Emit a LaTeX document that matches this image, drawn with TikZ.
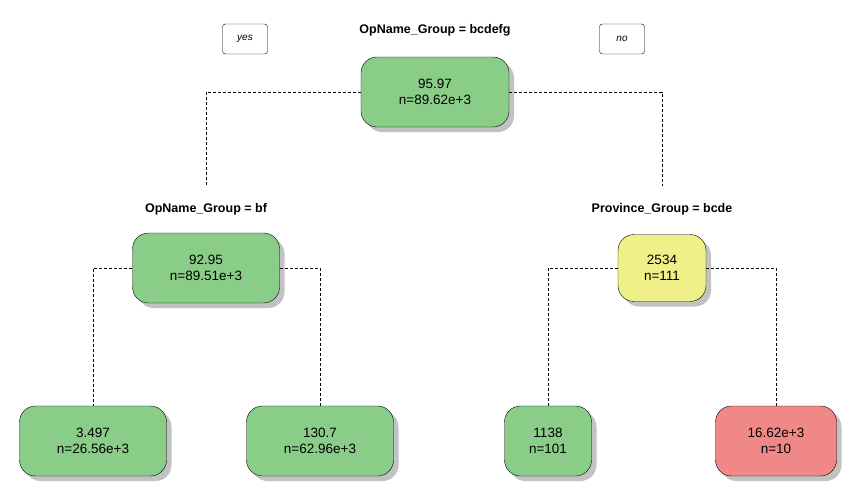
\documentclass[tikz,border=0pt]{standalone}
\usepackage{fontspec}
\setmainfont{Liberation Sans}
\usetikzlibrary{shadows}

\definecolor{leafgreen}{RGB}{137,205,137}
\definecolor{leafyellow}{RGB}{240,240,136}
\definecolor{leafred}{RGB}{240,136,136}

\tikzset{
  treenode/.style={draw=black, rounded corners=16pt, align=center,
    font=\fontsize{13.5}{16.5}\selectfont,
    drop shadow={shadow xshift=5pt, shadow yshift=-5pt, fill=black!40, opacity=0.6}},
  splitlabel/.style={font=\fontsize{12.5}{15}\selectfont\bfseries},
  answerbox/.style={draw=black, rounded corners=3pt, minimum width=45pt, minimum height=30pt,
    font=\fontsize{10}{12}\selectfont\itshape},
  branch/.style={dashed, dash pattern=on 3pt off 2pt, thin}
}

\begin{document}
\begin{tikzpicture}[x=1pt, y=1pt]
\useasboundingbox (0,0) rectangle (857,-493);

% Top split
\node[splitlabel] (lblroot) at (435,-30) {OpName\_Group = bcdefg};
\node[answerbox] (yes) at (245,-39) {yes};
\node[answerbox] (no) at (622,-39) {no};
\node[treenode, fill=leafgreen, minimum width=148pt, minimum height=70pt] (root) at (435,-92) {95.97\\n=89.62e+3};

% Second level
\node[splitlabel] (lblleft) at (206,-209) {OpName\_Group = bf};
\node[splitlabel] (lblright) at (662,-209) {Province\_Group = bcde};
\node[treenode, fill=leafgreen, minimum width=147pt, minimum height=70pt] (left) at (206,-268) {92.95\\n=89.51e+3};
\node[treenode, fill=leafyellow, minimum width=88pt, minimum height=67pt] (right) at (662,-268) {2534\\n=111};

% Leaves
\node[treenode, fill=leafgreen, minimum width=147pt, minimum height=70pt] (ll) at (93,-441) {3.497\\n=26.56e+3};
\node[treenode, fill=leafgreen, minimum width=147pt, minimum height=70pt] (lr) at (320,-441) {130.7\\n=62.96e+3};
\node[treenode, fill=leafgreen, minimum width=87pt, minimum height=70pt] (rl) at (548,-441) {1138\\n=101};
\node[treenode, fill=leafred, minimum width=121pt, minimum height=70pt] (rr) at (776,-441) {16.62e+3\\n=10};

% Branches
\draw[branch, shorten >=14pt] (root.west) -| (lblleft.north);
\draw[branch, shorten >=14pt] (root.east) -| (lblright.north);
\draw[branch] (left.west) -| (ll.north);
\draw[branch] (left.east) -| (lr.north);
\draw[branch] (right.west) -| (rl.north);
\draw[branch] (right.east) -| (rr.north);

\end{tikzpicture}
\end{document}
